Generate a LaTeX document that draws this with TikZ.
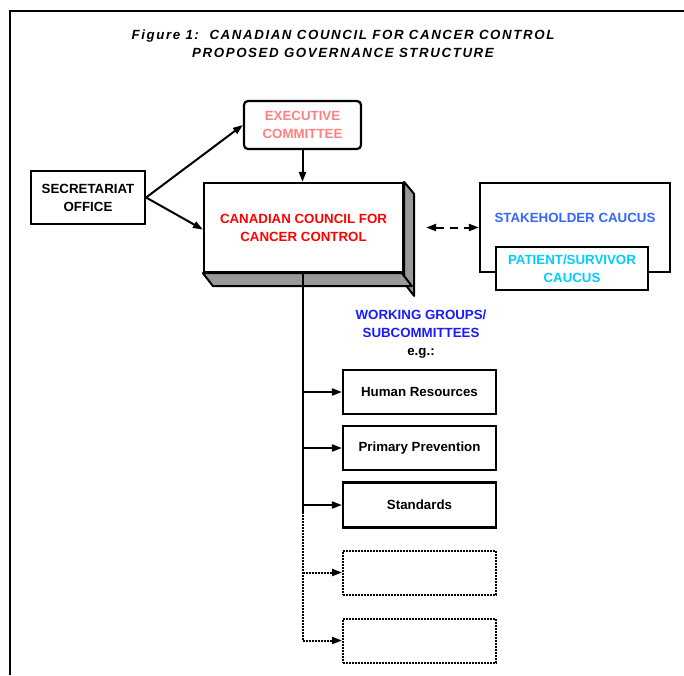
\documentclass[tikz,border=0pt]{standalone}
\usepackage{fontspec}
\setmainfont{Liberation Sans}
\newfontfamily\titlefont[LetterSpace=12]{Liberation Sans}
\usetikzlibrary{arrows.meta}
\definecolor{execred}{HTML}{FF8080}
\definecolor{stakeblue}{HTML}{3366FF}
\definecolor{patcyan}{HTML}{00CCFF}
\definecolor{wgblue}{HTML}{1A1AFF}
\definecolor{shade}{HTML}{999999}
\tikzset{
  box/.style={draw, line width=2.2pt, fill=white, align=center, inner sep=0pt,
    font=\fontsize{13.3}{18}\selectfont\bfseries},
  dotbox/.style={box, line width=2pt, dash pattern=on 2pt off 1pt},
  arr/.style={line width=2pt, -{Triangle[length=10pt,width=7pt]}},
  dotline/.style={line width=2pt, dash pattern=on 2pt off 1pt},
  txt/.style={align=center, inner sep=0pt, font=\fontsize{13.3}{18}\selectfont\bfseries},
}
\begin{document}
\begin{tikzpicture}[x=1pt,y=-1pt]
\useasboundingbox (0,0) rectangle (684,675);
% frame
\draw[line width=2.4pt] (684,11) -- (10,11) -- (10,675);
% title
\node[align=center, inner sep=0pt, font=\titlefont\fontsize{13.3}{18}\selectfont\bfseries\itshape] (title) at (343,44)
  {Figure 1:\ \ CANADIAN COUNCIL FOR CANCER CONTROL\\PROPOSED GOVERNANCE STRUCTURE};
% nodes
\node[box, rounded corners=4pt, minimum width=117pt, minimum height=48pt, text=execred] (exec) at (302.5,125) {EXECUTIVE\\COMMITTEE};
\node[box, minimum width=114pt, minimum height=53pt] (sec) at (88,197.5) {SECRETARIAT\\OFFICE};
\node[box, minimum width=199pt, minimum height=89pt, text=red] (cccc) at (303.5,227.5) {CANADIAN COUNCIL FOR\\CANCER CONTROL};
% 3D faces
\draw[line width=2pt, fill=shade, line join=round] (cccc.north east) -- ++(10,12) -- ++(0,102) -- ++(-10,-13) -- cycle;
\draw[line width=2pt, fill=shade, line join=round] (cccc.south west) -- ++(10,13) -- ++(199,0) -- ++(-10,-13) -- cycle;
\node[box, minimum width=190pt, minimum height=89pt] (stake) at (575,227.5) {};
\node[txt, text=stakeblue] (staketxt) at (575,218) {STAKEHOLDER CAUCUS};
\node[box, minimum width=152pt, minimum height=43pt, text=patcyan] (pat) at (572,268.5) {PATIENT/SURVIVOR\\CAUCUS};
\node[txt, text=wgblue] (wg) at (421,334) {WORKING GROUPS/\\SUBCOMMITTEES\\\textcolor{black}{e.g.:}};
\node[box, minimum width=153pt, minimum height=44pt] (hr) at (419.5,392) {Human Resources};
\node[box, minimum width=153pt, minimum height=44pt] (pp) at (419.5,448) {Primary Prevention};
\node[box, minimum width=153pt, minimum height=45pt] (st) at (419.5,505) {Standards};
\node[dotbox, minimum width=153pt, minimum height=44pt] (e1) at (419.5,572.5) {};
\node[dotbox, minimum width=153pt, minimum height=44pt] (e2) at (419.5,640.5) {};
% connectors
\draw[arr] (sec.east) -- (exec.west);
\draw[arr] (sec.east) -- ([yshift=-2pt]cccc.west);
\draw[arr] (exec.south) -- (exec.south |- cccc.north);
\draw[line width=2pt, dash pattern=on 8pt off 6pt, {Triangle[length=10pt,width=7pt]}-{Triangle[length=10pt,width=7pt]}] ([xshift=22pt]cccc.east) -- (stake.west);
\coordinate (tk) at (exec.south |- cccc.south);
\coordinate (tksplit) at (tk |- 0,512);
\draw[line width=2pt] (tk) -- (tksplit);
\draw[dotline] (tksplit) -- (tk |- e2.west);
\draw[arr] (tk |- hr.west) -- (hr.west);
\draw[arr] (tk |- pp.west) -- (pp.west);
\draw[arr] (tk |- st.west) -- (st.west);
\draw[arr, dotline] (tk |- e1.west) -- (e1.west);
\draw[arr, dotline] (tk |- e2.west) -- (e2.west);
\end{tikzpicture}
\end{document}
